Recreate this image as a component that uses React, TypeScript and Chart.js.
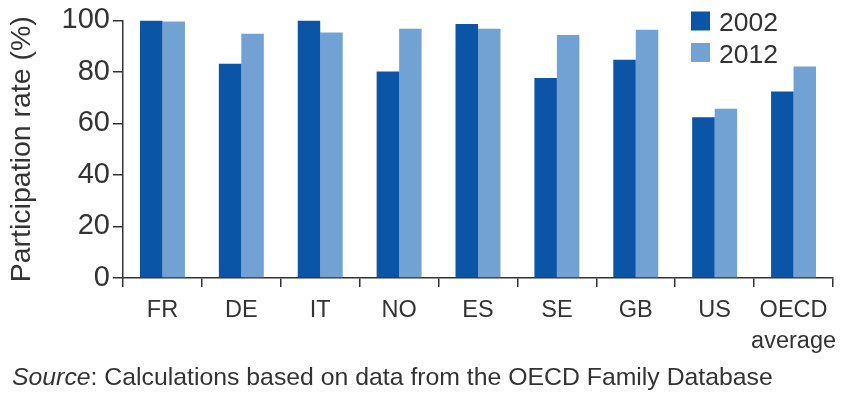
import React, { useEffect, useRef } from 'react';
import { Chart, registerables } from 'chart.js';

Chart.register(...registerables);

const categories: (string | string[])[] = ['FR', 'DE', 'IT', 'NO', 'ES', 'SE', 'GB', 'US', ['OECD', 'average']];
const seriesLabels = ['2002', '2012'];
const values2002 = [100, 83.2, 100, 80.2, 98.6, 77.6, 84.7, 62.4, 72.4];
const values2012 = [99.6, 94.8, 95.3, 96.8, 96.8, 94.3, 96.4, 65.7, 82.1];
const yMin = 0;
const yMax = 100;
const yStep = 20;
const yTitle = 'Participation rate (%)';
const sourceLabel = 'Source';
const sourceText = ': Calculations based on data from the OECD Family Database';

const DARK = '#0a55a6';
const LIGHT = '#72a1d4';
const TEXT = '#333333';
const FONT = '"Liberation Sans", Arial, sans-serif';

const legendPlugin = {
  id: 'customLegend',
  afterDraw(chart: any) {
    const ctx = chart.ctx;
    ctx.save();
    chart.data.datasets.forEach((ds: any, i: number) => {
      const y = 11.5 + i * 31.5;
      ctx.fillStyle = ds.backgroundColor;
      ctx.fillRect(691, y, 19, 19);
      ctx.fillStyle = TEXT;
      ctx.font = `26.5px ${FONT}`;
      ctx.textBaseline = 'alphabetic';
      ctx.textAlign = 'left';
      ctx.fillText(ds.label, 719, y + 19.5);
    });
    ctx.restore();
  },
};

const sourcePlugin = {
  id: 'sourceNote',
  afterDraw(chart: any) {
    const ctx = chart.ctx;
    ctx.save();
    ctx.fillStyle = TEXT;
    ctx.textBaseline = 'alphabetic';
    ctx.textAlign = 'left';
    ctx.font = `italic 24.8px ${FONT}`;
    ctx.fillText(sourceLabel, 12, 385);
    const w = ctx.measureText(sourceLabel).width;
    ctx.font = `24.8px ${FONT}`;
    ctx.fillText(sourceText, 12 + w, 385);
    ctx.restore();
  },
};

export default function App() {
  const ref = useRef<HTMLCanvasElement>(null);
  useEffect(() => {
    if (!ref.current) return;
    const chart = new Chart(ref.current, {
      type: 'bar',
      data: {
        labels: categories,
        datasets: [
          { label: seriesLabels[0], data: values2002, backgroundColor: DARK, borderWidth: 0 },
          { label: seriesLabels[1], data: values2012, backgroundColor: LIGHT, borderWidth: 0 },
        ],
      },
      options: {
        animation: false,
        responsive: false,
        maintainAspectRatio: false,
        layout: { padding: { top: 2, right: 15, left: 0, bottom: 0 } },
        plugins: {
          legend: { display: false },
          tooltip: { enabled: false },
          title: { display: false },
        },
        datasets: {
          bar: { categoryPercentage: 0.57, barPercentage: 1 },
        },
        scales: {
          x: {
            grid: {
              offset: true,
              drawOnChartArea: false,
              drawTicks: true,
              tickLength: 9,
              color: TEXT,
              lineWidth: 1.5,
            },
            border: { display: true, color: TEXT, width: 1.5 },
            ticks: {
              color: TEXT,
              font: { family: FONT, size: 23.5, lineHeight: 1.32 },
              padding: 8,
              maxRotation: 0,
              autoSkip: false,
            },
            afterFit(scale: any) {
              scale.height = 115;
            },
          },
          y: {
            min: yMin,
            max: yMax,
            grid: {
              drawOnChartArea: false,
              drawTicks: true,
              tickLength: 10,
              color: TEXT,
              lineWidth: 1.5,
            },
            border: { display: true, color: TEXT, width: 1.5 },
            ticks: {
              stepSize: yStep,
              color: TEXT,
              font: { family: FONT, size: 29 },
              padding: 3,
            },
            title: {
              display: true,
              text: yTitle,
              color: TEXT,
              font: { family: FONT, size: 28.5 },
              padding: { top: 5, bottom: 0 },
            },
            afterFit(scale: any) {
              scale.width = 123;
            },
          },
        },
      },
      plugins: [legendPlugin, sourcePlugin],
    } as any);
    return () => chart.destroy();
  }, []);
  return (
    <div style={{ position: 'absolute', left: 0, top: 0, width: 848, height: 393, background: '#fff' }}>
      <canvas ref={ref} width={848} height={393} />
    </div>
  );
}
